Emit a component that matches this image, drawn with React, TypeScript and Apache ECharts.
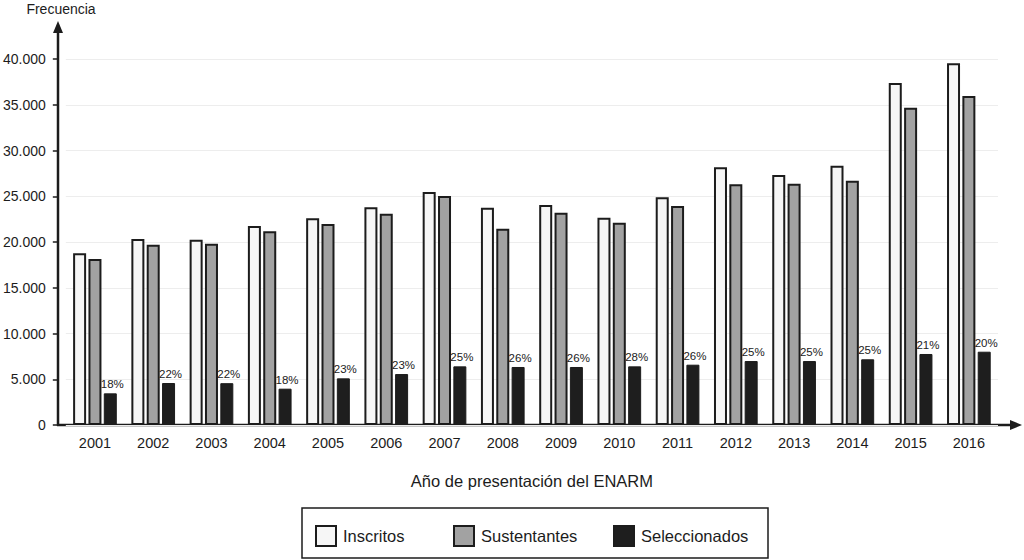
import React, { useEffect, useRef } from "react";
import * as echarts from "echarts";

const years = ["2001","2002","2003","2004","2005","2006","2007","2008","2009","2010","2011","2012","2013","2014","2015","2016"];
const inscritos = [18770, 20330, 20250, 21750, 22590, 23800, 25460, 23750, 24040, 22660, 24880, 28160, 27320, 28340, 37380, 39530];
const sustentantes = [18140, 19700, 19800, 21170, 21970, 23100, 25030, 21450, 23200, 22100, 23930, 26300, 26370, 26700, 34680, 35960];
const seleccionados = [3460, 4590, 4570, 3970, 5100, 5570, 6410, 6340, 6340, 6410, 6590, 6990, 6990, 7180, 7760, 8010];
const porcentajes = ["18%","22%","22%","18%","23%","23%","25%","26%","26%","28%","26%","25%","25%","25%","21%","20%"];
const seriesNames = ["Inscritos", "Sustentantes", "Seleccionados"];
const yTicks = { min: 0, max: 40000, interval: 5000 };

const FONT = "Liberation Sans, Arial, sans-serif";
const INK = "#1c1c1c";

export default function App() {
  const ref = useRef<HTMLDivElement>(null);
  useEffect(() => {
    if (!ref.current) return;
    const chart = echarts.init(ref.current, undefined, { renderer: "svg" });
    const barBase = { type: "bar", barWidth: 13, barGap: "18%", barCategoryGap: "20%" };
    const legendAt = (name: string, left: number) => ({
      data: [name], left, top: 525, padding: 0, itemWidth: 20, itemHeight: 20, itemGap: 0,
      icon: "rect", selectedMode: false,
      textStyle: { fontFamily: FONT, fontSize: 16.5, color: INK, padding: [0, 0, 0, 2] },
    });
    chart.setOption({
      animation: false,
      backgroundColor: "#ffffff",
      textStyle: { fontFamily: FONT },
      grid: { left: 65, right: 26, top: 59, bottom: 135 },
      legend: [
        legendAt(seriesNames[0], 315),
        legendAt(seriesNames[1], 453),
        legendAt(seriesNames[2], 613),
      ],
      xAxis: {
        type: "category",
        data: years,
        axisLine: { show: false },
        axisTick: { show: false },
        axisLabel: { fontFamily: FONT, fontSize: 14.5, color: INK, margin: 10 },
        name: "Año de presentación del ENARM",
        nameLocation: "middle",
        nameGap: 47,
        nameTextStyle: { fontFamily: FONT, fontSize: 16.5, color: INK },
      },
      yAxis: {
        type: "value",
        min: yTicks.min,
        max: yTicks.max,
        interval: yTicks.interval,
        offset: 7,
        axisLine: { show: false },
        axisTick: { show: true, length: 6, lineStyle: { color: INK, width: 1.5 } },
        axisLabel: {
          fontFamily: FONT, fontSize: 14, color: INK, margin: 13,
          formatter: (v: number) => (v === 0 ? "0" : v.toLocaleString("de-DE")),
        },
        splitLine: { show: true, lineStyle: { color: "#ededed", width: 1 } },
      },
      series: [
        {
          ...barBase, name: seriesNames[0], data: inscritos,
          itemStyle: { color: "#f6f6f6", borderColor: INK, borderWidth: 2 },
        },
        {
          ...barBase, name: seriesNames[1], data: sustentantes,
          itemStyle: { color: "#a2a2a2", borderColor: INK, borderWidth: 2 },
        },
        {
          ...barBase, name: seriesNames[2], data: seleccionados,
          itemStyle: { color: "#1e1e1e", borderColor: INK, borderWidth: 1 },
          label: {
            show: true, position: "top", distance: 3, offset: [2, 0],
            fontFamily: FONT, fontSize: 11.5, color: "#222",
            formatter: (p: any) => porcentajes[p.dataIndex],
          },
        },
      ],
      graphic: [
        { type: "line", shape: { x1: 58, y1: 426, x2: 58, y2: 30 }, style: { stroke: INK, lineWidth: 2.5 } },
        { type: "polygon", shape: { points: [[58, 21], [53, 33], [63, 33]] }, style: { fill: INK } },
        { type: "line", shape: { x1: 57, y1: 425, x2: 1013, y2: 425 }, style: { stroke: INK, lineWidth: 2.5 } },
        { type: "polygon", shape: { points: [[1022, 425], [1010, 420], [1010, 430]] }, style: { fill: INK } },
        { type: "text", x: 61, y: 9, style: { text: "Frecuencia", fontFamily: FONT, fontSize: 14, fill: INK, align: "center", verticalAlign: "middle" } },
        { type: "rect", shape: { x: 302, y: 508, width: 466, height: 50 }, style: { fill: "none", stroke: INK, lineWidth: 1.5 } },
      ],
    });
    return () => chart.dispose();
  }, []);
  return <div ref={ref} style={{ position: "fixed", left: 0, top: 0, width: 1024, height: 560 }} />;
}
